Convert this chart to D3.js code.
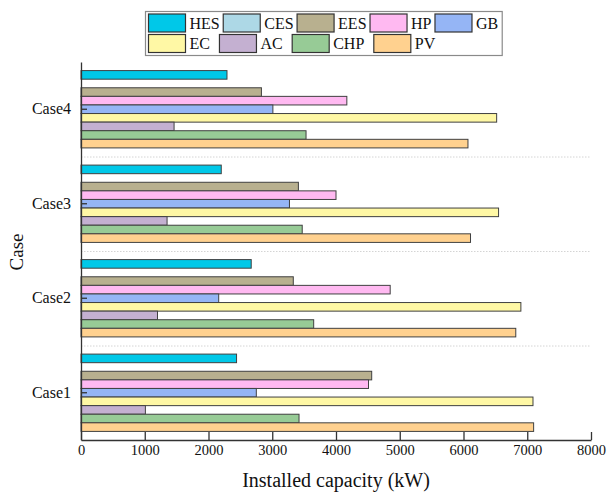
<!DOCTYPE html>
<html>
<head>
<meta charset="utf-8">
<script src="https://cdn.jsdelivr.net/npm/d3@7"></script>
<style>
  html, body { margin: 0; padding: 0; background: #fff; }
  svg { display: block; }
  svg text { font-family: "Liberation Serif", "Times New Roman", serif; fill: #111; }
</style>
</head>
<body>
<svg id="chart" width="609" height="496"></svg>
<script>
// Installed capacity per case (kW), values listed as [Case1, Case2, Case3, Case4]
const cases = ["Case1", "Case2", "Case3", "Case4"];
const seriesNames = ["HES", "CES", "EES", "HP", "GB", "EC", "AC", "CHP", "PV"];
const HES = [2440, 2670, 2200, 2290];
const CES = [0, 0, 0, 0];
const EES = [4560, 3330, 3410, 2830];
const HP  = [4510, 4850, 4000, 4170];
const GB  = [2750, 2160, 3270, 3010];
const EC  = [7090, 6900, 6550, 6520];
const AC  = [1010, 1200, 1350, 1460];
const CHP = [3420, 3650, 3470, 3530];
const PV  = [7100, 6820, 6110, 6070];
const xTicks = [0, 1000, 2000, 3000, 4000, 5000, 6000, 7000, 8000];

const seriesValues = { HES, CES, EES, HP, GB, EC, AC, CHP, PV };
const colors = {
  HES: "#00c8e8", CES: "#add8e6", EES: "#b8b08f", HP: "#ffb9f1", GB: "#95b5f5",
  EC: "#fff8a5", AC: "#c4b0d1", CHP: "#97cb96", PV: "#ffd18f"
};

const svg = d3.select("#chart");
const margin = { left: 81, right: 18, top: 62, bottom: 56 };
const W = 609, H = 496;
const plotRight = W - margin.right;
const plotBottom = H - margin.bottom;

const x = d3.scaleLinear().domain([0, 8000]).range([margin.left, plotRight]);
const y = d3.scaleBand().domain(cases.slice().reverse()).range([margin.top, plotBottom]).padding(0);
const inner = d3.scaleBand().domain(seriesNames).range([0, y.bandwidth()]).paddingOuter(1.0).paddingInner(0);

// dotted separators between the case groups
const gSep = svg.append("g");
cases.slice().reverse().slice(1).forEach(c => {
  gSep.append("line")
    .attr("x1", margin.left).attr("x2", plotRight)
    .attr("y1", y(c) + 0.5).attr("y2", y(c) + 0.5)
    .attr("stroke", "#d4d4d4").attr("stroke-width", 1)
    .attr("stroke-dasharray", "1.5,1.5");
});

// bars
const rows = [];
cases.forEach((c, i) => {
  seriesNames.forEach(s => rows.push({ c, s, v: seriesValues[s][i] }));
});
svg.append("g").selectAll("rect")
  .data(rows.filter(d => d.v > 0))
  .join("rect")
  .attr("x", x(0))
  .attr("y", d => y(d.c) + inner(d.s))
  .attr("width", d => x(d.v) - x(0))
  .attr("height", inner.bandwidth())
  .attr("fill", d => colors[d.s])
  .attr("stroke", "#404040")
  .attr("stroke-width", 1);

// x axis with inward ticks
const xAxis = svg.append("g")
  .attr("transform", `translate(0,${plotBottom})`)
  .call(d3.axisBottom(x).tickValues(xTicks).tickFormat(d3.format("d")).tickSizeInner(-8).tickSizeOuter(0).tickPadding(5));
xAxis.attr("font-family", null);
xAxis.select(".domain").attr("stroke", "#333").attr("stroke-width", 1.3);
xAxis.selectAll(".tick line").attr("stroke", "#333").attr("stroke-width", 1.3);
xAxis.selectAll(".tick text").attr("font-size", "14.5px").attr("fill", "#111");

// y axis with inward ticks
const yAxis = svg.append("g")
  .attr("transform", `translate(${margin.left},0)`)
  .call(d3.axisLeft(y).tickSizeInner(-6).tickSizeOuter(0).tickPadding(10));
yAxis.attr("font-family", null);
yAxis.select(".domain").attr("stroke", "#333").attr("stroke-width", 1.3);
yAxis.selectAll(".tick line").attr("stroke", "#333").attr("stroke-width", 1.3);
yAxis.selectAll(".tick text").attr("font-size", "16px").attr("fill", "#111");

// axis titles
svg.append("text")
  .attr("x", (margin.left + plotRight) / 2).attr("y", 487)
  .attr("text-anchor", "middle").attr("font-size", "20px")
  .text("Installed capacity (kW)");
svg.append("text")
  .attr("transform", `translate(23,${(margin.top + plotBottom) / 2 + 1}) rotate(-90)`)
  .attr("text-anchor", "middle").attr("font-size", "19px")
  .text("Case");

// legend: two rows, entries flowed left to right
const legendRows = [["HES", "CES", "EES", "HP", "GB"], ["EC", "AC", "CHP", "PV"]];
const rowGap = [3.5, 9.5];
const legend = svg.append("g");
const box = legend.append("rect").attr("fill", "#fff").attr("stroke", "#8a8a8a").attr("stroke-width", 1.2);
const sw = 37, sh = 18, lx0 = 148.5, rowY = [14, 34.5];
let maxRight = 0;
legendRows.forEach((row, ri) => {
  let cx = lx0;
  row.forEach(s => {
    legend.append("rect")
      .attr("x", cx).attr("y", rowY[ri]).attr("width", sw).attr("height", sh)
      .attr("fill", colors[s]).attr("stroke", "#333").attr("stroke-width", 1.2);
    const t = legend.append("text")
      .attr("x", cx + sw + 4).attr("y", rowY[ri] + 14.5)
      .attr("font-size", "16px").text(s);
    const tw = t.node().getComputedTextLength();
    maxRight = Math.max(maxRight, cx + sw + 4 + tw);
    cx = cx + sw + 4 + tw + rowGap[ri];
  });
});
box.attr("x", 145.5).attr("y", 11.5).attr("width", maxRight + 4 - 145.5).attr("height", 44);
</script>
</body>
</html>
